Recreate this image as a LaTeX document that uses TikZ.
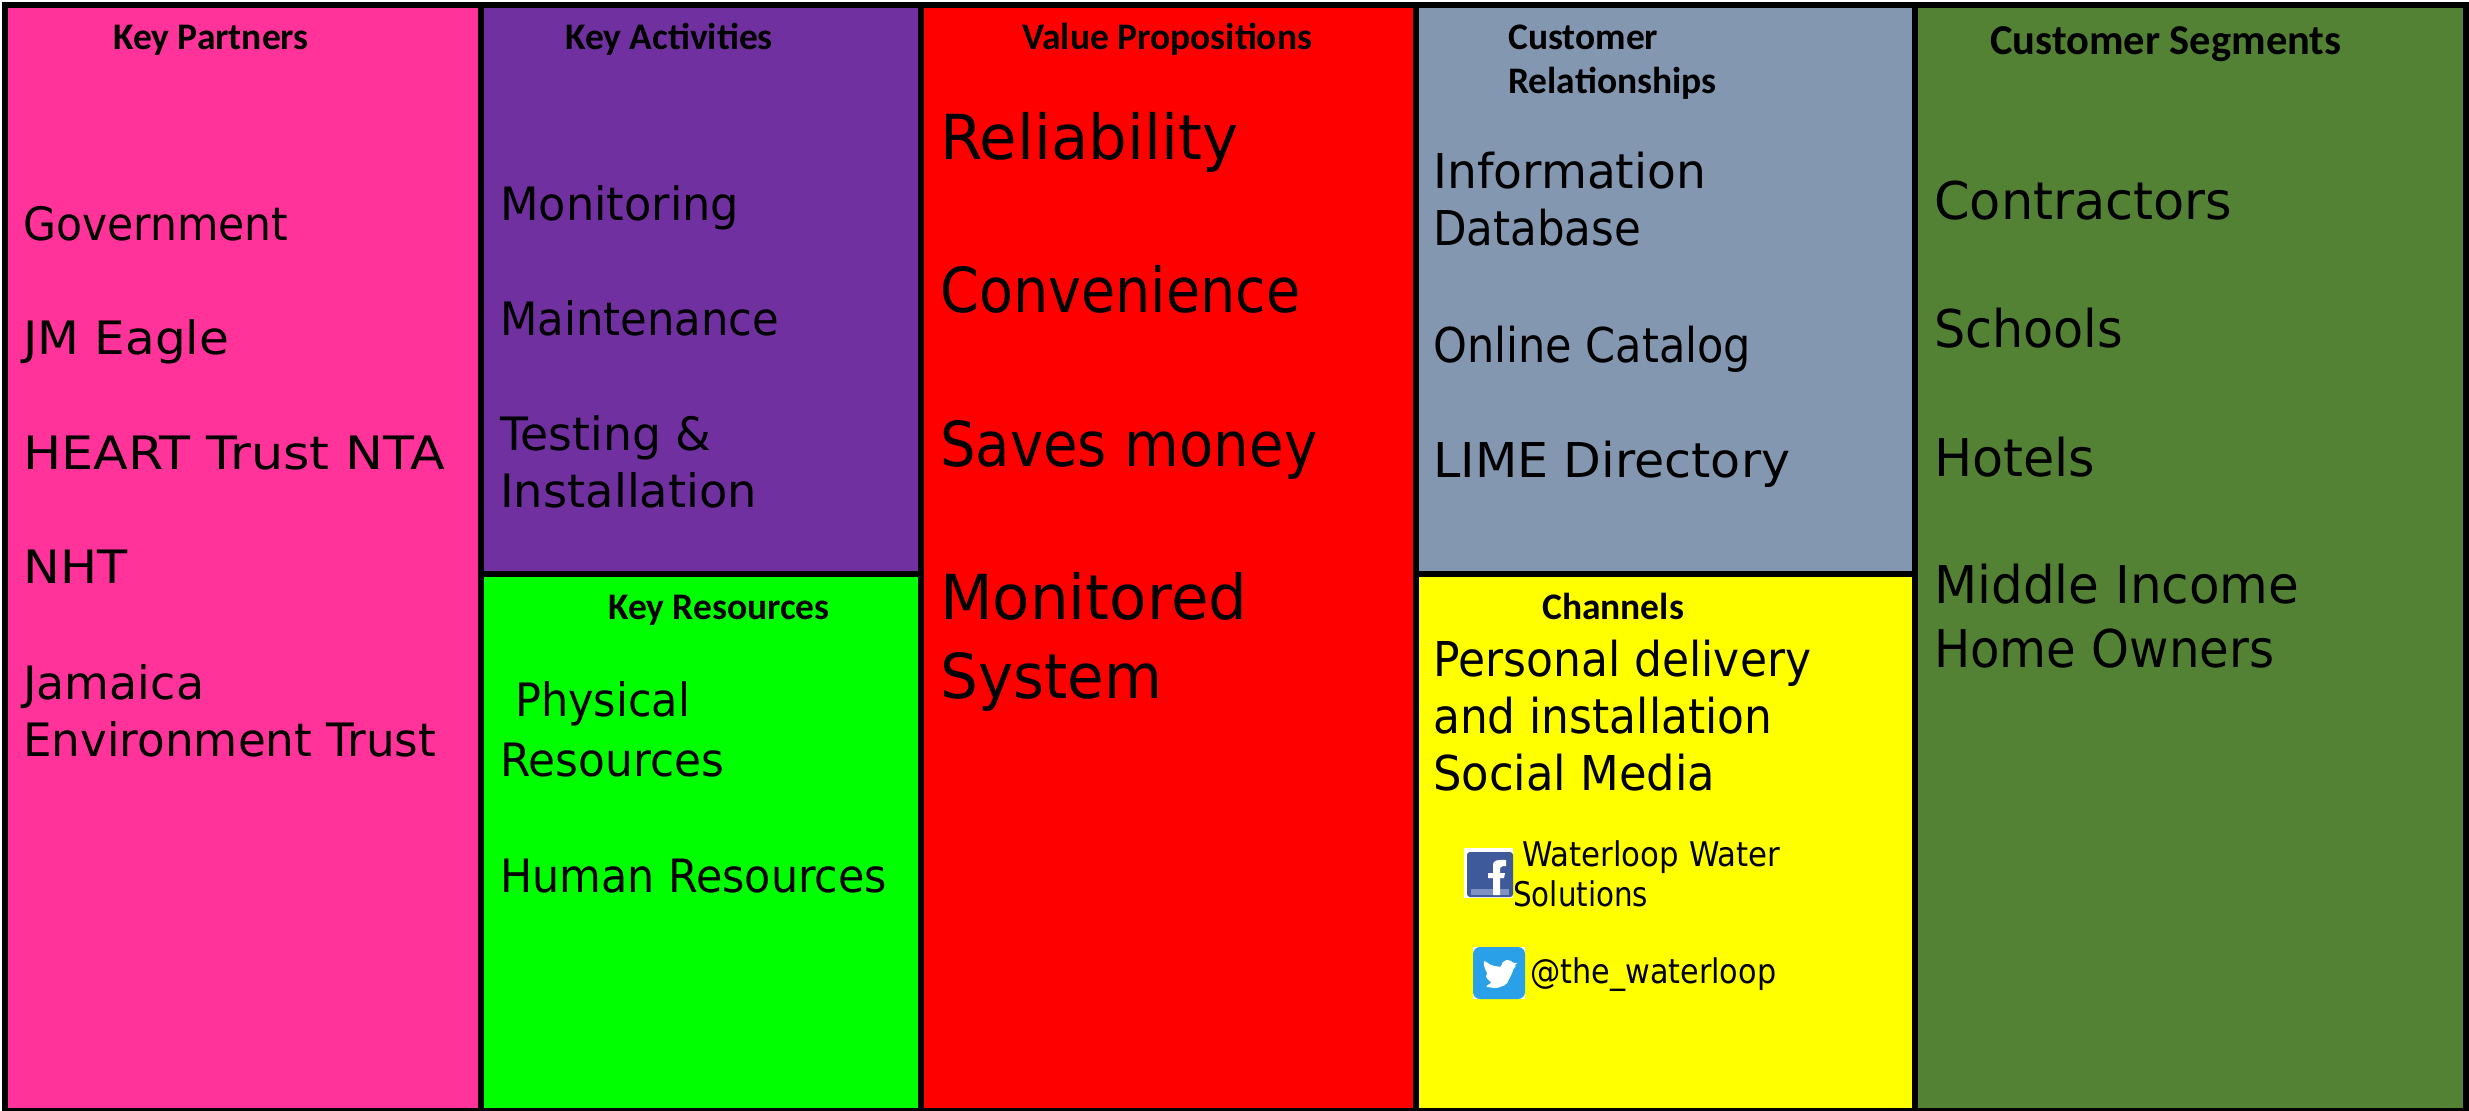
\documentclass[tikz,border=0pt]{standalone}
\usepackage{graphicx}
\usepackage{fontspec}
\setmainfont{DejaVu Sans}
\newfontfamily\headfont{Carlito}[BoldFont=Carlito Bold]
\newcommand{\hfit}[2]{\resizebox{#1pt}{\height}{#2}}
\definecolor{cpink}{HTML}{FF3399}
\definecolor{cpurple}{HTML}{7030A0}
\definecolor{clime}{HTML}{00FF00}
\definecolor{cred}{HTML}{FF0000}
\definecolor{csteel}{HTML}{8497B0}
\definecolor{cyell}{HTML}{FFFF00}
\definecolor{cgreen}{HTML}{548235}
\definecolor{fbblue}{HTML}{3F5A9A}
\definecolor{fbband}{HTML}{7F92C4}
\definecolor{twblue}{HTML}{2AA0E8}
\tikzset{
  panel/.style={draw=black,line width=6pt},
  head/.style={anchor=base west,inner sep=0pt,font=\headfont\bfseries\fontsize{37.5}{44}\selectfont,align=left},
  item/.style={anchor=base west,inner sep=0pt,font=\fontsize{46}{57}\selectfont,align=left},
  itembig/.style={anchor=base west,inner sep=0pt,font=\fontsize{62}{79}\selectfont,align=left},
  itemmid/.style={anchor=base west,inner sep=0pt,font=\fontsize{48}{57}\selectfont,align=left},
  itemseg/.style={anchor=base west,inner sep=0pt,font=\fontsize{52}{64}\selectfont,align=left},
  itemsmall/.style={anchor=base west,inner sep=0pt,font=\fontsize{34}{39}\selectfont,align=left}
}
\begin{document}
\begin{tikzpicture}[x=1pt,y=-1pt]
\useasboundingbox (0,0) rectangle (2469,1111);
\fill[white] (0,0) rectangle (2469,1111);
\draw[panel,fill=cpink] (5,5) rectangle (481,1111);
\draw[panel,fill=cpurple] (481,5) rectangle (921,574);
\draw[panel,fill=clime] (481,574) rectangle (921,1111);
\draw[panel,fill=cred] (921,5) rectangle (1416,1111);
\draw[panel,fill=csteel] (1416,5) rectangle (1915,574);
\draw[panel,fill=cyell] (1416,574) rectangle (1915,1111);
\draw[panel,fill=cgreen] (1915,5) rectangle (2466,1111);
% headings
\node[head] (hkp) at (113,49) {Key Partners};
\node[head] (hka) at (565,49) {Key Activities};
\node[head] (hvp) at (1022,49) {Value Propositions};
\node[head] (hcr) at (1508,93) {Customer\\Relationships};
\node[head,font=\headfont\bfseries\fontsize{42.5}{50}\selectfont] (hcs) at (1990,54) {Customer Segments};
\node[head] (hkr) at (608,619) {Key Resources};
\node[head] (hch) at (1542,619) {Channels};
% key partners
\node[item] (p1) at (23,240) {\hfit{265}{Government}};
\node[item] (p2) at (23,354) {\hfit{206}{JM Eagle}};
\node[item] (p3) at (23,469) {\hfit{422}{HEART Trust NTA}};
\node[item] (p4) at (23,583) {\hfit{104}{NHT}};
\node[item] (p5) at (23,756) {\hfit{181}{Jamaica}\\\hfit{413}{Environment Trust}};
% key activities
\node[item] (a1) at (500,220) {\hfit{239}{Monitoring}};
\node[item] (a2) at (500,335) {\hfit{279}{Maintenance}};
\node[item] (a3) at (500,507) {\hfit{211}{Testing \&}\\\hfit{257}{Installation}};
% key resources
\node[item] (r1) at (515,716) {\hfit{175}{Physical}};
\node[item] (r1b) at (500,776) {\hfit{224}{Resources}};
\node[item] (r2) at (500,892) {\hfit{387}{Human Resources}};
% value propositions
\node[itembig] (v1) at (940,159) {\hfit{298}{Reliability}};
\node[itembig] (v2) at (940,312) {\hfit{360}{Convenience}};
\node[itembig] (v3) at (940,466) {\hfit{377}{Saves money}};
\node[itembig] (v4) at (940,698) {\hfit{307}{Monitored}\\\hfit{222}{System}};
% customer relationships
\node[itemmid] (c1) at (1433,245) {\hfit{273}{Information}\\\hfit{208}{Database}};
\node[itemmid] (c2) at (1433,362) {\hfit{318}{Online Catalog}};
\node[itemmid] (c3) at (1433,477) {\hfit{357}{LIME Directory}};
% channels
\node[itemmid] (ch1) at (1433,790) {\hfit{378}{Personal delivery}\\\hfit{339}{and installation}\\\hfit{282}{Social Media}};
\node[itemsmall] (ch2) at (1522,866) {\hfit{258}{Waterloop Water}};
\node[itemsmall] (ch3) at (1513,906) {\hfit{135}{Solutions}};
\node[itemsmall] (ch4) at (1530,983) {\hfit{246}{@the\_waterloop}};
% segments
\node[itemseg] (s1) at (1934,219) {\hfit{298}{Contractors}};
\node[itemseg] (s2) at (1934,347) {\hfit{189}{Schools}};
\node[itemseg] (s3) at (1934,476) {\hfit{161}{Hotels}};
\node[itemseg] (s4) at (1934,667) {\hfit{365}{Middle Income}\\\hfit{340}{Home Owners}};
% facebook icon
\fill[white] (1464,848) rectangle (1513,898);
\fill[fbblue,rounded corners=3pt] (1467,852) rectangle (1513,897);
\fill[fbband] (1471,889) rectangle (1509,895);
\fill[white] (1493,895) -- (1493,878) -- (1488,878) -- (1488,873) -- (1493,873) -- (1493,866)
  .. controls (1493,859) and (1498,860) .. (1506,860) -- (1506,866) -- (1503,866)
  .. controls (1500,866) and (1500,868) .. (1500,873) -- (1505,873) -- (1504,878) -- (1500,878) -- (1500,895) -- cycle;
% twitter icon
\fill[white] (1473,947) rectangle (1525,999);
\fill[twblue,rounded corners=7pt] (1473,947) rectangle (1525,999);
\begin{scope}[shift={(1468,943)},x=0.3333pt,y=-0.3333pt]
\fill[white,rounded corners=2pt] (150,58) -- (137,62) -- (125,50) -- (108,53) -- (100,62) -- (100,72) -- (72,68) -- (47,52) -- (48,70) -- (54,84) -- (60,96) -- (52,96) -- (60,112) -- (72,118) -- (52,131) -- (85,136) -- (115,125) -- (135,85) -- (136,74) -- (148,68) -- (137,70) -- cycle;
\end{scope}
\end{tikzpicture}
\end{document}
